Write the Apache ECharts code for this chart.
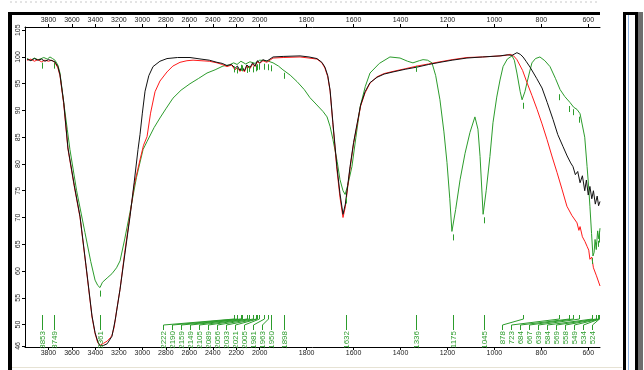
<!DOCTYPE html>
<html>
<head>
<meta charset="utf-8">
<script src="https://cdn.jsdelivr.net/npm/echarts@6/dist/echarts.min.js"></script>
<style>
  html, body { margin: 0; padding: 0; background: #fff; }
  #chart { width: 644px; height: 370px; }
</style>
</head>
<body>
<div id="chart"></div>
<script>
// wavenumber (cm-1) / transmittance (%) pairs
var blackSpectrum = [
  [3983, 99.6], [3950, 99.3], [3920, 99.7], [3890, 99.4], [3860, 99.6], [3830, 99.2], [3800, 99.5],
  [3770, 99.3], [3745, 99.1], [3720, 98.2], [3702, 96.7], [3670, 91.5], [3634, 83.0], [3580, 76.0],
  [3531, 70.2], [3480, 61.0], [3429, 51.6], [3403, 48.5], [3380, 46.8], [3361, 46.0], [3330, 46.1],
  [3300, 46.4], [3259, 47.8], [3230, 51.0], [3190, 56.6], [3150, 63.0], [3105, 70.2], [3070, 76.5],
  [3037, 82.7], [3020, 85.5], [3000, 89.5], [2977, 93.6], [2945, 96.5], [2909, 98.2], [2850, 99.2],
  [2790, 99.7], [2700, 99.9], [2594, 99.9], [2500, 99.6], [2430, 99.4], [2364, 99.0], [2320, 98.8],
  [2279, 98.4], [2240, 98.6], [2210, 97.9], [2190, 98.3], [2168, 97.5], [2150, 98.2], [2130, 97.4],
  [2110, 98.5], [2083, 98.0], [2060, 98.9], [2040, 98.3], [2020, 99.3], [2000, 98.9], [1986, 99.5],
  [1970, 99.2], [1943, 100.0], [1900, 100.1], [1828, 100.2], [1790, 100.0], [1756, 99.7], [1735, 99.0],
  [1722, 98.1], [1710, 96.5], [1700, 93.8], [1688, 87.7], [1671, 79.5], [1658, 74.5], [1645, 70.6],
  [1635, 72.5], [1625, 76.0], [1615, 79.5], [1600, 84.0], [1585, 87.5], [1570, 91.0], [1551, 93.5],
  [1530, 95.2], [1500, 96.2], [1470, 96.8], [1432, 97.2], [1380, 97.7], [1330, 98.1], [1280, 98.6],
  [1232, 99.0], [1180, 99.4], [1117, 99.8], [1050, 100.0], [976, 100.2], [946, 100.4], [925, 100.3],
  [904, 100.8], [890, 100.5], [878, 100.0], [865, 99.2], [848, 98.1], [820, 96.0], [797, 94.2],
  [775, 91.5], [750, 88.3], [730, 85.5], [708, 83.3], [690, 81.5], [675, 80.2], [665, 79.5],
  [655, 78.0], [645, 78.6], [635, 76.5], [625, 77.8], [615, 75.0], [608, 77.0], [600, 74.2],
  [593, 75.8], [585, 73.5], [578, 75.0], [570, 72.5], [562, 74.0], [556, 72.2], [550, 73.0]
];

var redSpectrum = [
  [3983, 99.4], [3950, 99.6], [3920, 99.2], [3890, 99.5], [3860, 99.1], [3830, 99.4], [3800, 99.2],
  [3770, 99.4], [3745, 98.9], [3720, 98.0], [3702, 96.5], [3670, 91.2], [3634, 82.8], [3580, 75.8],
  [3531, 70.0], [3480, 60.8], [3429, 51.4], [3403, 48.3], [3380, 46.6], [3361, 46.1], [3330, 46.5],
  [3300, 46.9], [3270, 47.6], [3259, 48.0], [3240, 49.5], [3220, 52.5], [3190, 56.6], [3150, 63.5],
  [3105, 70.5], [3070, 76.0], [3020, 80.8], [2990, 83.5], [2960, 85.1], [2930, 89.5], [2892, 93.5],
  [2850, 95.5], [2790, 97.2], [2740, 98.3], [2679, 99.0], [2620, 99.3], [2568, 99.4], [2500, 99.3],
  [2430, 99.2], [2364, 98.9], [2320, 98.6], [2279, 98.2], [2240, 98.5], [2210, 97.6], [2190, 98.0],
  [2168, 97.3], [2150, 98.0], [2130, 97.2], [2110, 98.3], [2083, 97.8], [2060, 98.7], [2040, 98.2],
  [2020, 99.1], [2000, 98.8], [1986, 99.3], [1970, 99.0], [1943, 99.8], [1900, 99.9], [1828, 100.0],
  [1790, 99.8], [1756, 99.6], [1735, 98.9], [1722, 97.9], [1710, 96.3], [1700, 93.6], [1688, 87.4],
  [1671, 79.0], [1658, 73.8], [1645, 70.0], [1635, 72.0], [1625, 75.7], [1615, 79.2], [1600, 83.8],
  [1585, 87.3], [1570, 90.8], [1551, 93.3], [1530, 95.1], [1500, 96.3], [1470, 96.9], [1432, 97.3],
  [1380, 97.8], [1330, 98.3], [1280, 98.7], [1232, 99.1], [1180, 99.5], [1117, 99.9], [1050, 100.0],
  [976, 100.2], [950, 100.3], [933, 100.5], [918, 100.2], [904, 99.5], [880, 97.5], [861, 95.2],
  [840, 92.8], [818, 90.2], [797, 87.5], [776, 84.6], [755, 81.5], [733, 78.4], [712, 75.3],
  [691, 72.1], [670, 70.4], [648, 69.0], [640, 67.6], [635, 68.3], [625, 66.4], [614, 65.5],
  [605, 64.6], [598, 63.9], [593, 62.2], [585, 62.6], [578, 60.6], [571, 60.9], [565, 59.1],
  [558, 58.9], [550, 57.2]
];

var greenSpectrum = [
  [3983, 99.7], [3950, 99.4], [3920, 99.8], [3890, 99.5], [3872, 99.6], [3840, 99.9], [3810, 99.6],
  [3787, 100.0], [3765, 99.7], [3745, 99.4], [3720, 98.5], [3702, 97.0], [3670, 91.5], [3640, 86.5],
  [3617, 82.7], [3560, 75.0], [3489, 67.2], [3440, 61.8], [3403, 58.3], [3380, 57.3], [3361, 56.9],
  [3340, 57.9], [3300, 58.7], [3259, 59.5], [3220, 60.6], [3190, 61.9], [3150, 66.0], [3105, 71.0],
  [3050, 77.5], [2994, 82.7], [2960, 84.2], [2900, 86.8], [2850, 88.6], [2800, 90.3], [2739, 92.3],
  [2670, 93.8], [2594, 95.0], [2520, 96.0], [2449, 97.0], [2380, 97.6], [2313, 98.3], [2260, 98.5],
  [2222, 98.9], [2193, 98.6], [2160, 99.2], [2120, 98.7], [2083, 99.1], [2040, 98.8], [2000, 99.4],
  [1969, 99.3], [1943, 98.9], [1920, 98.3], [1901, 97.6], [1870, 96.6], [1841, 95.4], [1810, 93.9],
  [1786, 92.4], [1760, 91.2], [1730, 89.8], [1713, 88.8], [1700, 87.0], [1688, 84.6], [1670, 80.5],
  [1658, 77.1], [1645, 75.0], [1636, 74.3], [1625, 76.0], [1607, 79.5], [1590, 85.0], [1572, 90.7],
  [1550, 94.5], [1530, 97.0], [1490, 98.8], [1445, 100.0], [1402, 99.8], [1370, 99.2], [1347, 98.9],
  [1320, 99.3], [1304, 99.5], [1285, 99.4], [1266, 98.9], [1250, 96.5], [1232, 92.0], [1215, 86.0],
  [1202, 80.3], [1190, 73.5], [1181, 67.4], [1165, 71.5], [1146, 77.1], [1125, 82.0], [1104, 85.9],
  [1083, 88.8], [1070, 86.5], [1061, 81.4], [1048, 70.6], [1035, 75.0], [1019, 81.4], [1006, 87.7],
  [990, 92.5], [976, 95.7], [963, 98.2], [945, 99.6], [925, 100.2], [915, 99.4], [904, 97.0],
  [890, 93.5], [882, 92.0], [870, 93.5], [861, 95.2], [850, 97.2], [840, 98.9], [825, 99.7],
  [806, 100.0], [785, 99.3], [763, 98.2], [740, 96.0], [720, 93.9], [700, 92.6], [678, 91.5],
  [662, 90.6], [648, 90.2], [635, 89.4], [627, 89.6], [615, 85.0], [605, 79.5], [598, 75.5],
  [593, 72.1], [586, 67.0], [580, 62.8], [575, 63.5], [571, 65.9], [566, 64.0], [560, 67.5],
  [555, 66.0], [550, 68.0]
];

// picked peaks of the green trace: wavenumber, transmittance at the peak
var peakWavenumbers = [3853, 3749, 3361, 2222, 2190, 2159, 2149, 2105, 2089, 2056, 2033, 2021, 2005,
  1981, 1963, 1950, 1898, 1632, 1336, 1175, 1045, 878, 723, 684, 667, 639, 584, 569, 558, 549, 534, 524];
var peakValues = [99.5, 99.5, 56.9, 98.8, 98.6, 99.1, 99.0, 98.7, 98.9, 98.8, 99.0, 99.2, 99.3,
  99.3, 99.2, 99.0, 97.6, 74.3, 98.9, 67.4, 70.6, 92.0, 93.6, 91.4, 90.8, 89.4, 63.0, 65.9, 66.2, 67.0, 67.5, 68.0];

var xTickLabels = [3800, 3600, 3400, 3200, 3000, 2800, 2600, 2400, 2200, 2000, 1800, 1600, 1400, 1200, 1000, 800, 600];
var yTickLabels = [46, 50, 55, 60, 65, 70, 75, 80, 85, 90, 95, 100, 105];

var GREEN = '#2c9c2c';
var FONT = '"Liberation Sans", Arial, sans-serif';

// the wavenumber scale is halved above 2000 cm-1
function toPos(w) { return w > 2000 ? 2000 + (w - 2000) / 2 : w; }
function fromPos(p) { return p > 2000 ? 2000 + (p - 2000) * 2 : p; }

function toSeriesData(spec) {
  return spec.map(function (d) { return [toPos(d[0]), d[1]]; });
}

function labelSlots(api, right) {
  var xs = peakWavenumbers.map(function (w) { return api.coord([toPos(w), 100])[0]; });
  var slots = [];
  var next = Infinity;
  for (var i = xs.length - 1; i >= 0; i--) {
    slots[i] = Math.min(xs[i], right - 8, next - 9);
    next = slots[i];
  }
  return { xs: xs, slots: slots };
}

var xTickPos = xTickLabels.map(toPos);

function xAxisCfg(pos) {
  return {
    type: 'value',
    position: pos,
    min: 550,
    max: 3000,
    inverse: true,
    axisLine: { show: true, lineStyle: { color: '#000', width: 1 } },
    axisTick: { show: true, length: 3, customValues: xTickPos, lineStyle: { color: '#000' } },
    axisLabel: {
      customValues: xTickPos,
      margin: 3,
      fontSize: 7,
      color: '#222',
      fontFamily: FONT,
      formatter: function (v) { return String(Math.round(fromPos(v))); }
    },
    splitLine: { show: false }
  };
}

var chart = echarts.init(document.getElementById('chart'));

chart.setOption({
  animation: false,
  backgroundColor: '#fff',
  grid: { left: 25, right: 44, top: 27, bottom: 23, containLabel: false, outerBoundsMode: 'none' },
  xAxis: [xAxisCfg('bottom'), xAxisCfg('top')],
  yAxis: {
    type: 'value',
    min: 45.8,
    max: 105.6,
    axisLine: { show: true, lineStyle: { color: '#000', width: 1 } },
    axisTick: { show: true, length: 3, customValues: yTickLabels, lineStyle: { color: '#000' } },
    axisLabel: {
      customValues: yTickLabels,
      rotate: 90,
      margin: 3,
      fontSize: 7,
      color: '#222',
      fontFamily: FONT
    },
    splitLine: { show: false }
  },
  graphic: [
    { type: 'line', shape: { x1: 10, y1: 2, x2: 600, y2: 2 }, style: { stroke: '#c8c8c8', lineDash: [2, 3], lineWidth: 1 } },
    { type: 'rect', shape: { x: 8, y: 12, width: 592, height: 3 }, style: { fill: '#000' } },
    { type: 'rect', shape: { x: 8, y: 12, width: 4, height: 358 }, style: { fill: '#000' } },
    { type: 'line', shape: { x1: 12, y1: 367.5, x2: 622, y2: 367.5 }, style: { stroke: '#e6e2d4', lineWidth: 1 } },
    { type: 'rect', shape: { x: 623, y: 12, width: 20, height: 3 }, style: { fill: '#000' } },
    { type: 'rect', shape: { x: 623, y: 12, width: 3, height: 358 }, style: { fill: '#000' } },
    { type: 'line', shape: { x1: 628.5, y1: 15, x2: 628.5, y2: 370 }, style: { stroke: '#8fb4e3', lineWidth: 1 } },
    { type: 'rect', shape: { x: 635, y: 12, width: 3, height: 358 }, style: { fill: '#000' } },
    { type: 'rect', shape: { x: 638, y: 12, width: 5, height: 358 }, style: { fill: '#6e6e6e' } }
  ],
  series: [
    {
      type: 'line', data: toSeriesData(greenSpectrum), showSymbol: false, smooth: false,
      lineStyle: { color: GREEN, width: 1 }, z: 2
    },
    {
      type: 'line', data: toSeriesData(redSpectrum), showSymbol: false,
      lineStyle: { color: '#ff1a1a', width: 1 }, z: 3
    },
    {
      type: 'line', data: toSeriesData(blackSpectrum), showSymbol: false,
      lineStyle: { color: '#111', width: 1 }, z: 4
    },
    {
      type: 'custom',
      z: 5,
      data: peakWavenumbers.map(function (w, i) { return [toPos(w), peakValues[i]]; }),
      renderItem: function (params, api) {
        var cs = params.coordSys;
        var bottom = cs.y + cs.height;
        var right = cs.x + cs.width;
        var i = params.dataIndex;
        var lay = labelSlots(api, right);
        var px = Math.round(Math.min(lay.xs[i], right - 1)) + 0.5;
        var lx = Math.round(lay.slots[i]) + 0.5;
        var pt = api.coord([api.value(0), api.value(1)]);
        return {
          type: 'group',
          children: [
            { type: 'line', shape: { x1: px, y1: pt[1] + 3, x2: px, y2: pt[1] + 9 }, style: { stroke: GREEN, lineWidth: 1 } },
            {
              type: 'polyline',
              shape: { points: [[px, bottom - 32], [px, bottom - 28], [lx, bottom - 22], [lx, bottom - 17]] },
              style: { stroke: GREEN, fill: null, lineWidth: 1 }
            },
            {
              type: 'text', x: lx, y: bottom - 16, rotation: Math.PI / 2,
              style: {
                text: String(peakWavenumbers[i]), fill: GREEN, fontSize: 8, fontFamily: FONT,
                align: 'right', verticalAlign: 'middle'
              }
            }
          ]
        };
      }
    }
  ]
});
</script>
</body>
</html>
